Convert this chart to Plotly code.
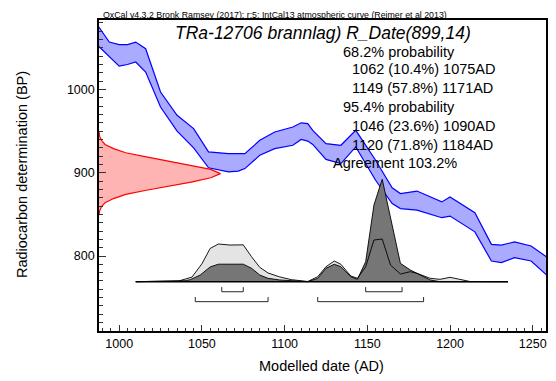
import plotly.graph_objects as go

# ---------------- data ----------------
# IntCal13 calibration band (calendar year AD, upper / lower radiocarbon BP)
curve_year = [987, 994, 1000, 1005, 1010, 1016, 1025, 1035, 1045, 1054, 1066, 1072, 1076,
              1085, 1094, 1105, 1110, 1114, 1117, 1125, 1134, 1143, 1155, 1165, 1170, 1180,
              1195, 1200, 1215, 1225, 1231, 1239, 1249, 1259]
curve_upper = [1077, 1057, 1054, 1054, 1057, 1049, 997, 969, 953, 925, 923, 923, 923,
               939, 949, 955, 960, 959, 951, 935, 933, 951, 915, 882, 875, 878,
               865, 871, 852, 814, 813, 817, 812, 798]
curve_lower = [1053, 1039, 1028, 1030, 1033, 1021, 979, 950, 930, 906, 901, 902, 905,
               921, 929, 933, 940, 938, 934, 916, 911, 931, 891, 863, 857, 855,
               846, 848, 829, 794, 792, 798, 794, 776]

# Radiocarbon measurement R_Date(899,14): relative probability vs BP
rdate_bp = [949, 944, 939, 934, 929, 924, 919, 914, 909, 904, 899,
            894, 889, 884, 879, 874, 869, 864, 859, 854, 849]
rdate_prob = [0.0, 0.005, 0.02, 0.05, 0.12, 0.22, 0.39, 0.57, 0.77, 0.92, 1.0,
              0.92, 0.77, 0.57, 0.39, 0.22, 0.12, 0.05, 0.02, 0.005, 0.0]

# Unmodelled (likelihood) distribution
like_year = [1010, 1036, 1044, 1050, 1055, 1060, 1067, 1075, 1080, 1085, 1090, 1097, 1104,
             1114, 1120, 1125, 1130, 1134, 1140, 1144, 1149, 1154, 1159, 1164, 1170, 1176,
             1180, 1188, 1194, 1200, 1205, 1212, 1235]
like_prob = [0.0, 0.007, 0.045, 0.175, 0.325, 0.368, 0.358, 0.36, 0.244, 0.14, 0.085, 0.047, 0.02,
             0.002, 0.049, 0.146, 0.202, 0.17, 0.056, 0.033, 0.146, 0.407, 0.417, 0.163, 0.075, 0.098,
             0.082, 0.033, 0.023, 0.043, 0.026, 0.002, 0.0]

# Modelled (posterior) distribution
post_year = [1010, 1040, 1043, 1049, 1055, 1060, 1075, 1080, 1085, 1090, 1097, 1104,
             1114, 1120, 1125, 1130, 1134, 1140, 1144, 1149, 1154, 1159, 1164, 1170, 1176,
             1180, 1188, 1194, 1235]
post_prob = [0.0, 0.01, 0.02, 0.065, 0.144, 0.171, 0.171, 0.131, 0.065, 0.033, 0.017, 0.008,
             0.0, 0.033, 0.131, 0.17, 0.147, 0.049, 0.023, 0.195, 0.749, 1.0, 0.619, 0.179, 0.114,
             0.082, 0.017, 0.0, 0.0]

# Highest posterior density ranges
hpd68 = [(1062, 1075), (1149, 1171)]
hpd95 = [(1046, 1090), (1120, 1184)]

header = "OxCal v4.3.2 Bronk Ramsey (2017); r:5; IntCal13 atmospheric curve (Reimer et al 2013)"
title = "TRa-12706 brannlag) R_Date(899,14)"
prob_lines = ["68.2% probability", "1062 (10.4%) 1075AD", "1149 (57.8%) 1171AD",
              "95.4% probability", "1046 (23.6%) 1090AD", "1120 (71.8%) 1184AD",
              "Agreement 103.2%"]
x_ticks = [1000, 1050, 1100, 1150, 1200, 1250]
y_ticks = [800, 900, 1000]

# ---------------- layout helpers ----------------
L, R, T, B = 99, 8, 20, 50
W, H = 556, 381
PW, PH = W - L - R, H - T - B
def px_x(p):
    return (p - L) / PW
def px_y(p):
    return (H - B - p) / PH

FONT = "Liberation Sans, Arial, sans-serif"

fig = go.Figure()

# calibration band
fig.add_trace(go.Scatter(
    x=curve_year + curve_year[::-1],
    y=curve_upper + curve_lower[::-1],
    fill="toself", fillcolor="rgb(170,170,255)",
    line=dict(color="rgb(0,0,255)", width=1.2),
    mode="lines", hoverinfo="skip", showlegend=False))

# radiocarbon date distribution on the y axis
fig.add_trace(go.Scatter(
    x=rdate_prob, y=rdate_bp, xaxis="x2", yaxis="y",
    fill="toself", fillcolor="rgb(255,180,180)",
    line=dict(color="rgb(255,0,0)", width=1.2),
    mode="lines", hoverinfo="skip", showlegend=False))

# calendar distributions
fig.add_trace(go.Scatter(
    x=like_year, y=like_prob, xaxis="x", yaxis="y2",
    fill="toself", fillcolor="rgb(228,228,228)", line=dict(width=0),
    mode="lines", hoverinfo="skip", showlegend=False))
fig.add_trace(go.Scatter(
    x=post_year, y=post_prob, xaxis="x", yaxis="y2",
    fill="toself", fillcolor="rgb(118,118,118)", line=dict(width=0),
    mode="lines", hoverinfo="skip", showlegend=False))
fig.add_trace(go.Scatter(
    x=like_year, y=like_prob, xaxis="x", yaxis="y2",
    line=dict(color="black", width=0.9),
    mode="lines", hoverinfo="skip", showlegend=False))
fig.add_trace(go.Scatter(
    x=post_year, y=post_prob, xaxis="x", yaxis="y2",
    line=dict(color="black", width=0.9),
    mode="lines", hoverinfo="skip", showlegend=False))
fig.add_trace(go.Scatter(
    x=[like_year[0], like_year[-1]], y=[0, 0], xaxis="x", yaxis="y2",
    line=dict(color="black", width=1.6),
    mode="lines", hoverinfo="skip", showlegend=False))

# range brackets
def brackets(ranges, level, tick):
    xs, ys = [], []
    for a, b in ranges:
        xs += [a, a, b, b, None]
        ys += [level + tick, level, level, level + tick, None]
    return xs, ys

for ranges, level in ((hpd68, -0.098), (hpd95, -0.195)):
    bx, by = brackets(ranges, level, 0.045)
    fig.add_trace(go.Scatter(
        x=bx, y=by, xaxis="x", yaxis="y2",
        line=dict(color="rgb(40,40,40)", width=1),
        mode="lines", hoverinfo="skip", showlegend=False))

# ---------------- axes ----------------
fig.update_layout(
    width=W, height=H,
    margin=dict(l=L, r=R, t=T, b=B, pad=0),
    paper_bgcolor="white", plot_bgcolor="white",
    font=dict(family=FONT, color="black"),
    xaxis=dict(range=[987.8, 1258], tickvals=x_ticks, ticktext=[str(v) for v in x_ticks],
               ticks="inside", ticklen=6, tickwidth=1, tickcolor="#333",
               minor=dict(dtick=5, ticks="inside", ticklen=3, tickcolor="#333", tickwidth=1),
               showline=True, linecolor="black", linewidth=1.6, mirror=True,
               showgrid=False, zeroline=False, tickfont=dict(size=12.5, family=FONT)),
    yaxis=dict(range=[709.9, 1083.5], tickvals=y_ticks, ticktext=[str(v) for v in y_ticks],
               ticks="inside", ticklen=7, tickwidth=1, tickcolor="#333",
               minor=dict(dtick=10, ticks="inside", ticklen=4, tickcolor="#333", tickwidth=1),
               showline=True, linecolor="black", linewidth=1.6, mirror=True,
               showgrid=False, zeroline=False, tickfont=dict(size=12.5, family=FONT)),
    xaxis2=dict(overlaying="x", anchor="y", range=[0, PW / 122.0], visible=False),
    yaxis2=dict(overlaying="y", anchor="x", range=[-(H - B - 281.7) / 102.4, (281.7 - T) / 102.4],
                visible=False),
)

ann = []
ann.append(dict(text="<u>" + header + "</u>", x=px_x(101), y=px_y(14.5), xref="paper", yref="paper",
                xanchor="left", yanchor="middle", showarrow=False, font=dict(size=8.8, family=FONT)))
ann.append(dict(text="<i>" + title + "</i>", x=px_x(324.5), y=px_y(33), xref="paper", yref="paper",
                xanchor="center", yanchor="middle", showarrow=False, font=dict(size=17.5, family=FONT)))
line_y = [51.7, 69.3, 88.3, 107.3, 126, 145, 163.3]
line_x = [341.7, 350.7, 350.7, 341.7, 350.7, 350.7, 332.3]
for t, lx, ly in zip(prob_lines, line_x, line_y):
    ann.append(dict(text=t, x=px_x(lx), y=px_y(ly), xref="paper", yref="paper",
                    xanchor="left", yanchor="middle", showarrow=False, font=dict(size=14.5, family=FONT)))
ann.append(dict(text="Modelled date (AD)", x=px_x(322.5), y=px_y(366), xref="paper", yref="paper",
                xanchor="center", yanchor="middle", showarrow=False, font=dict(size=14.5, family=FONT)))
ann.append(dict(text="Radiocarbon determination (BP)", x=px_x(21.7), y=px_y(175), xref="paper",
                yref="paper", xanchor="center", yanchor="middle", textangle=-90, showarrow=False,
                font=dict(size=14.5, family=FONT)))
fig.update_layout(annotations=ann)

fig.write_html("out.html")
